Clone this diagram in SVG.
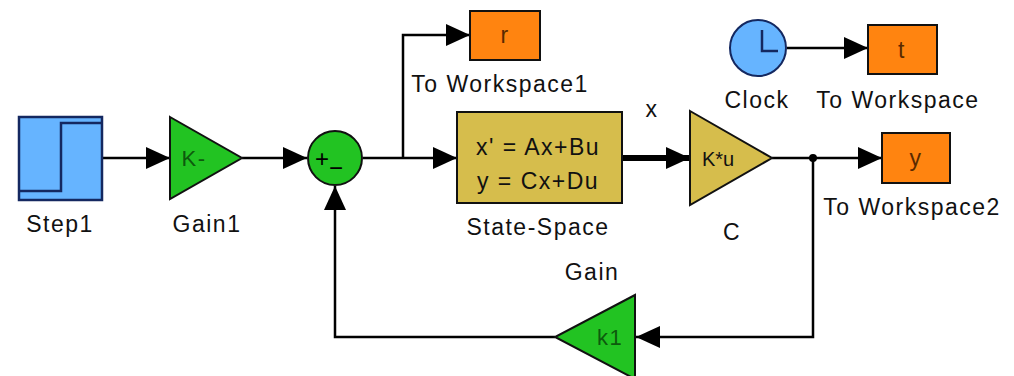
<svg xmlns="http://www.w3.org/2000/svg" width="1014" height="376" viewBox="0 0 1014 376">
<defs>
<marker id="arr" viewBox="0 0 24 22" refX="24" refY="11" markerWidth="24" markerHeight="22" markerUnits="userSpaceOnUse" orient="auto">
<path d="M0,0 L24,11 L0,22 z" fill="#000"/>
</marker>
</defs>
<style>
.lbl{font-family:"Liberation Sans",Arial,sans-serif;font-size:23px;fill:#111;letter-spacing:1.5px;text-anchor:middle}
.blk{stroke:#111;stroke-width:2}
.ws{fill:#ff8410}
.wire{fill:none;stroke:#000;stroke-width:2.5}
.gt{fill:#0d5a0d}
.ot{fill:#5a2a00}
</style>
<rect width="1014" height="376" fill="#fff"/>
<g id="connectors">
<path class="wire" d="M102,158 H170" marker-end="url(#arr)"/>
<path class="wire" d="M242,158 H307" marker-end="url(#arr)"/>
<path class="wire" d="M363,158 H457" marker-end="url(#arr)"/>
<path class="wire" d="M403,158 V35 H470" marker-end="url(#arr)"/>
<path class="wire" d="M622,158 H690" style="stroke-width:6" marker-end="url(#arr)"/>
<path class="wire" d="M772,158 H882" marker-end="url(#arr)"/>
<circle cx="813" cy="158" r="4" fill="#000"/>
<path class="wire" d="M813,158 V337 H636" marker-end="url(#arr)"/>
<path class="wire" d="M555,337 H335 V186" marker-end="url(#arr)"/>
<path class="wire" d="M787,48 H868" marker-end="url(#arr)"/>
</g>
<g id="step1">
<rect x="19" y="117" width="83" height="83" fill="#66b4ff" stroke="#142860" stroke-width="2.5"/>
<path d="M19,191 H61 V123 H102" fill="none" stroke="#142860" stroke-width="2.5"/>
<text class="lbl" x="60" y="232">Step1</text>
</g>
<g id="gain1">
<polygon class="blk" points="170,117 242,158 170,199" fill="#22c322"/>
<text class="lbl gt" x="194" y="166" style="font-size:22px">K-</text>
<text class="lbl" x="207" y="232">Gain1</text>
</g>
<g id="sum">
<circle class="blk" cx="335" cy="158" r="27" fill="#22c322"/>
<text x="322" y="167" style="font-family:'Liberation Sans',Arial,sans-serif;font-size:24px;text-anchor:middle;fill:#000">+</text>
<text x="336" y="176" style="font-family:'Liberation Sans',Arial,sans-serif;font-size:24px;text-anchor:middle;fill:#000">−</text>
</g>
<g id="toworkspace1">
<rect class="blk ws" x="470" y="11" width="70" height="49"/>
<text class="lbl ot" x="505" y="43">r</text>
<text class="lbl" x="500" y="92">To Workspace1</text>
</g>
<g id="statespace">
<rect class="blk" x="457" y="112" width="165" height="91" fill="#d6bd4c"/>
<text class="lbl" x="538" y="155">x' = Ax+Bu</text>
<text class="lbl" x="538" y="189">y = Cx+Du</text>
<text class="lbl" x="538" y="235">State-Space</text>
</g>
<text class="lbl" x="652" y="117">x</text>
<g id="gainC">
<polygon class="blk" points="690,111 772,158 690,205" fill="#d6bd4c"/>
<text class="lbl" x="718" y="166" style="font-size:20px;letter-spacing:0">K*u</text>
<text class="lbl" x="732" y="240">C</text>
</g>
<g id="clock">
<circle cx="758" cy="48" r="28" fill="#66b4ff" stroke="#142860" stroke-width="2"/>
<path d="M762,30 V51 H778" fill="none" stroke="#142860" stroke-width="2.5"/>
<text class="lbl" x="757" y="108">Clock</text>
</g>
<g id="toworkspace">
<rect class="blk ws" x="868" y="25" width="69" height="49"/>
<text class="lbl ot" x="902" y="58">t</text>
<text class="lbl" x="898" y="108">To Workspace</text>
</g>
<g id="toworkspace2">
<rect class="blk ws" x="882" y="133" width="68" height="50"/>
<text class="lbl ot" x="916" y="166">y</text>
<text class="lbl" x="912" y="215">To Workspace2</text>
</g>
<g id="gainK1">
<polygon class="blk" points="635,295 555,337 635,379" fill="#22c322"/>
<text class="lbl gt" x="610" y="345" style="font-size:22px">k1</text>
<text class="lbl" x="592" y="280">Gain</text>
</g>
</svg>
